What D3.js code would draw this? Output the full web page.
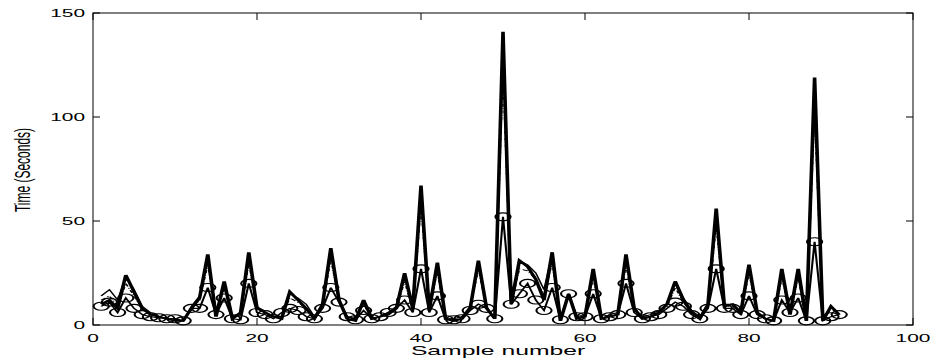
<!DOCTYPE html>
<html><head><meta charset="utf-8">
<script src="https://cdn.jsdelivr.net/npm/d3@7"></script>
<style>body{margin:0;background:#fff}svg{display:block}</style>
</head><body><div id="chart"></div>
<script>
const samples = d3.range(1, 92);
const seriesMax = [10,12,8,24,16,8,5,4,3,2,2,8,13,34,4,21,3,6,35,8,6,4,3,16,12,8,3,10,37,12,3,2,12,3,4,5,8,25,8,67,7,30,3,2,3,8,31,8,3,141,10,31,28,22,12,35,2,15,3,4,27,3,4,5,34,8,3,4,6,10,21,12,6,3,10,56,9,10,6,29,6,3,2,27,5,27,2,119,2,9,5];
const seriesThin = [14,17,12,23,17,9,6,4,3,3,2,9,14,33,5,20,4,6,34,9,6,4,4,15,13,10,4,10,36,12,4,3,12,3,4,6,9,24,8,65,7,29,3,3,4,9,30,9,3,138,10,31,29,25,17,34,3,15,4,5,26,3,5,6,33,8,4,5,7,10,21,13,7,4,10,55,10,10,6,28,6,3,2,26,6,26,2,116,2,9,5];
const seriesDash = [12,14,9,20,14,8,5,4,3,3,2,8,12,29,5,18,3,5,30,8,6,4,4,13,11,8,4,9,32,11,4,3,10,3,4,6,8,21,7,58,7,26,3,3,4,8,27,8,3,122,10,27,26,22,14,30,3,15,4,4,23,3,5,5,29,7,4,4,6,9,18,11,6,3,9,48,9,9,6,25,6,3,2,23,6,23,2,103,2,8,5];
const seriesCircle = [9,11,6,13,8,5,4,3.5,3,3,2,8,8,18,5,13,3,2.5,20,6,5,3,6,8,7,4,3,8,18,11,4,2.5,7,3,4,6,8,12,6,27,6,14,2.5,2.5,3,7,10,8,3,52,10,15,20,12,7,18,2.5,15,4,4,15,3,4,5,20,6,3,4,5,8,11,9,5,3,8,27,8,8,5,14,5,3,2,12,6,13,2,40,2,4,5];
const xTicks = [0,20,40,60,80,100];
const yTicks = [0,50,100,150];
const xLabel = "Sample number";
const yLabel = "Time (Seconds)";

const W = 938, H = 360, SX = 1.9;
const L = 93, R = 913, T = 13, B = 325;
const svg = d3.select("#chart").append("svg").attr("width", W).attr("height", H);

const x = d3.scaleLinear().domain([0, 100]).range([L / SX, R / SX]);
const y = d3.scaleLinear().domain([0, 150]).range([B, T]);

const g = svg.append("g").attr("transform", `scale(${SX},1)`);
const line = vals => d3.line().x((d, i) => x(samples[i])).y(d => y(d))(vals);

g.append("path").attr("d", line(seriesDash)).attr("fill", "none").attr("stroke", "#000")
  .attr("stroke-width", 0.9).attr("stroke-dasharray", "3,1.5,0.8,1.5");
g.append("path").attr("d", line(seriesThin)).attr("fill", "none").attr("stroke", "#000")
  .attr("stroke-width", 0.9);
g.append("path").attr("d", line(seriesCircle)).attr("fill", "none").attr("stroke", "#000")
  .attr("stroke-width", 1.1);
g.selectAll("circle.m").data(seriesCircle).join("circle").attr("class", "m")
  .attr("cx", (d, i) => x(samples[i])).attr("cy", d => y(d)).attr("r", 4)
  .attr("fill", "none").attr("stroke", "#000").attr("stroke-width", 1.1);
g.append("path").attr("d", line(seriesMax)).attr("fill", "none").attr("stroke", "#000")
  .attr("stroke-width", 1.9).attr("stroke-linejoin", "miter");

// axes (outside scaled group)
const xs = d3.scaleLinear().domain([0, 100]).range([L, R]);
const font = "'Liberation Sans', Arial, sans-serif";
const ax = svg.append("g");
ax.append("rect").attr("x", L).attr("y", T).attr("width", R - L).attr("height", B - T)
  .attr("fill", "none").attr("stroke", "#000").attr("stroke-width", 1);
xTicks.forEach(t => {
  ax.append("line").attr("x1", xs(t)).attr("x2", xs(t)).attr("y1", B).attr("y2", B - 7).attr("stroke", "#000");
  ax.append("line").attr("x1", xs(t)).attr("x2", xs(t)).attr("y1", T).attr("y2", T + 7).attr("stroke", "#000");
  ax.append("text").attr("transform", `translate(${xs(t)},${B + 17}) scale(${SX},1)`)
    .attr("text-anchor", "middle").attr("font-family", font).attr("font-size", 11).text(t);
});
yTicks.forEach(t => {
  ax.append("line").attr("x1", L).attr("x2", L + 7).attr("y1", y(t)).attr("y2", y(t)).attr("stroke", "#000");
  ax.append("line").attr("x1", R).attr("x2", R - 7).attr("y1", y(t)).attr("y2", y(t)).attr("stroke", "#000");
  ax.append("text").attr("transform", `translate(${L - 8},${y(t) + 4}) scale(${SX},1)`)
    .attr("text-anchor", "end").attr("font-family", font).attr("font-size", 11).text(t);
});
svg.append("text").attr("transform", `translate(${(L + R) / 2 - 5},${355}) scale(${SX},1)`)
  .attr("text-anchor", "middle").attr("font-family", font).attr("font-size", 13).text(xLabel);
svg.append("text").attr("transform", `translate(30,170) scale(${SX},1) rotate(-90)`)
  .attr("text-anchor", "middle").attr("font-family", font).attr("font-size", 12).text(yLabel);
</script></body></html>
